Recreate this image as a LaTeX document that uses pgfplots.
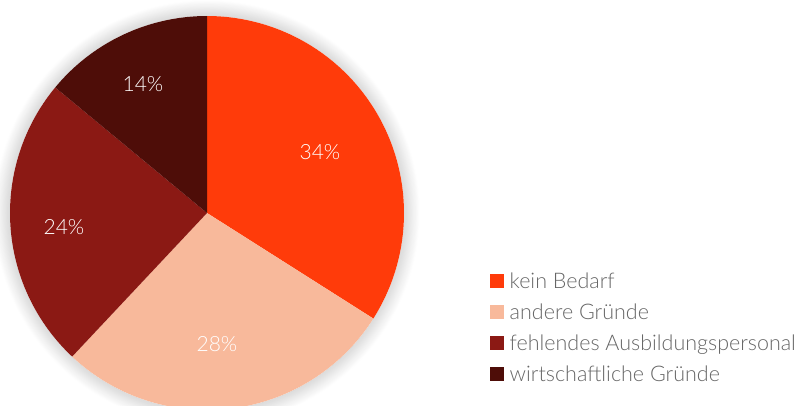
\documentclass[border=0pt]{standalone}
\usepackage{fontspec}
\setmainfont{Lato}[UprightFont={* Light}]
\usepackage{pgfplots}
\pgfplotsset{compat=1.18}
\usetikzlibrary{shadows.blur}
\definecolor{kb}{HTML}{FF3B0A}
\definecolor{ag}{HTML}{F8B99B}
\definecolor{fa}{HTML}{8B1914}
\definecolor{wg}{HTML}{4E0D08}
\definecolor{legtext}{HTML}{666666}
\begin{document}
\begin{tikzpicture}
\useasboundingbox (0,0) rectangle (801pt,405pt);
\clip (0,0) rectangle (801pt,405pt);
\begin{axis}[
  at={(0,0)}, anchor=south west,
  scale only axis, width=801pt, height=405pt,
  xmin=0, xmax=801, ymin=0, ymax=405,
  hide axis, clip=false,
  legend style={at={(axis cs:490,132)}, anchor=north west, draw=none, fill=none,
    font=\fontsize{21.5}{24}\selectfont\color{legtext}, row sep=12pt, column sep=6pt,
    inner sep=0pt, nodes={inner sep=0pt, anchor=base west, text height=15pt, text depth=4pt}},
  legend cell align=left,
  legend image code/.code={\fill[#1] (0pt,0pt) rectangle (13.5pt,14pt);},
]
\fill[white, blur shadow={shadow xshift=0pt, shadow yshift=0pt, shadow blur radius=16pt, shadow opacity=30, shadow blur steps=20}] (axis cs:207,192) circle [radius=197pt];
% values: 34, 28, 24, 14 (clockwise from top)
\addplot[fill=kb, draw=none, domain={90-3.6*34}:90, samples=120, variable=\t]
  ({207+197*cos(t)},{192+197*sin(t)}) -- (axis cs:207,192) -- cycle;
\addlegendentry{kein Bedarf}
\addplot[fill=ag, draw=none, domain={90-3.6*(34+28)}:{90-3.6*34}, samples=120, variable=\t]
  ({207+197*cos(t)},{192+197*sin(t)}) -- (axis cs:207,192) -- cycle;
\addlegendentry{andere Gründe}
\addplot[fill=fa, draw=none, domain={90-3.6*(34+28+24)}:{90-3.6*(34+28)}, samples=120, variable=\t]
  ({207+197*cos(t)},{192+197*sin(t)}) -- (axis cs:207,192) -- cycle;
\addlegendentry{fehlendes Ausbildungspersonal}
\addplot[fill=wg, draw=none, domain={90-3.6*(34+28+24+14)}:{90-3.6*(34+28+24)}, samples=120, variable=\t]
  ({207+197*cos(t)},{192+197*sin(t)}) -- (axis cs:207,192) -- cycle;
\addlegendentry{wirtschaftliche Gründe}
\begin{scope}[every node/.style={text=white, font=\fontsize{21}{24}\selectfont}]
\node at (axis cs:320,253) {34\%};
\node at (axis cs:217,61) {28\%};
\node at (axis cs:64,178) {24\%};
\node at (axis cs:143,321) {14\%};
\end{scope}
\end{axis}
\end{tikzpicture}
\end{document}
